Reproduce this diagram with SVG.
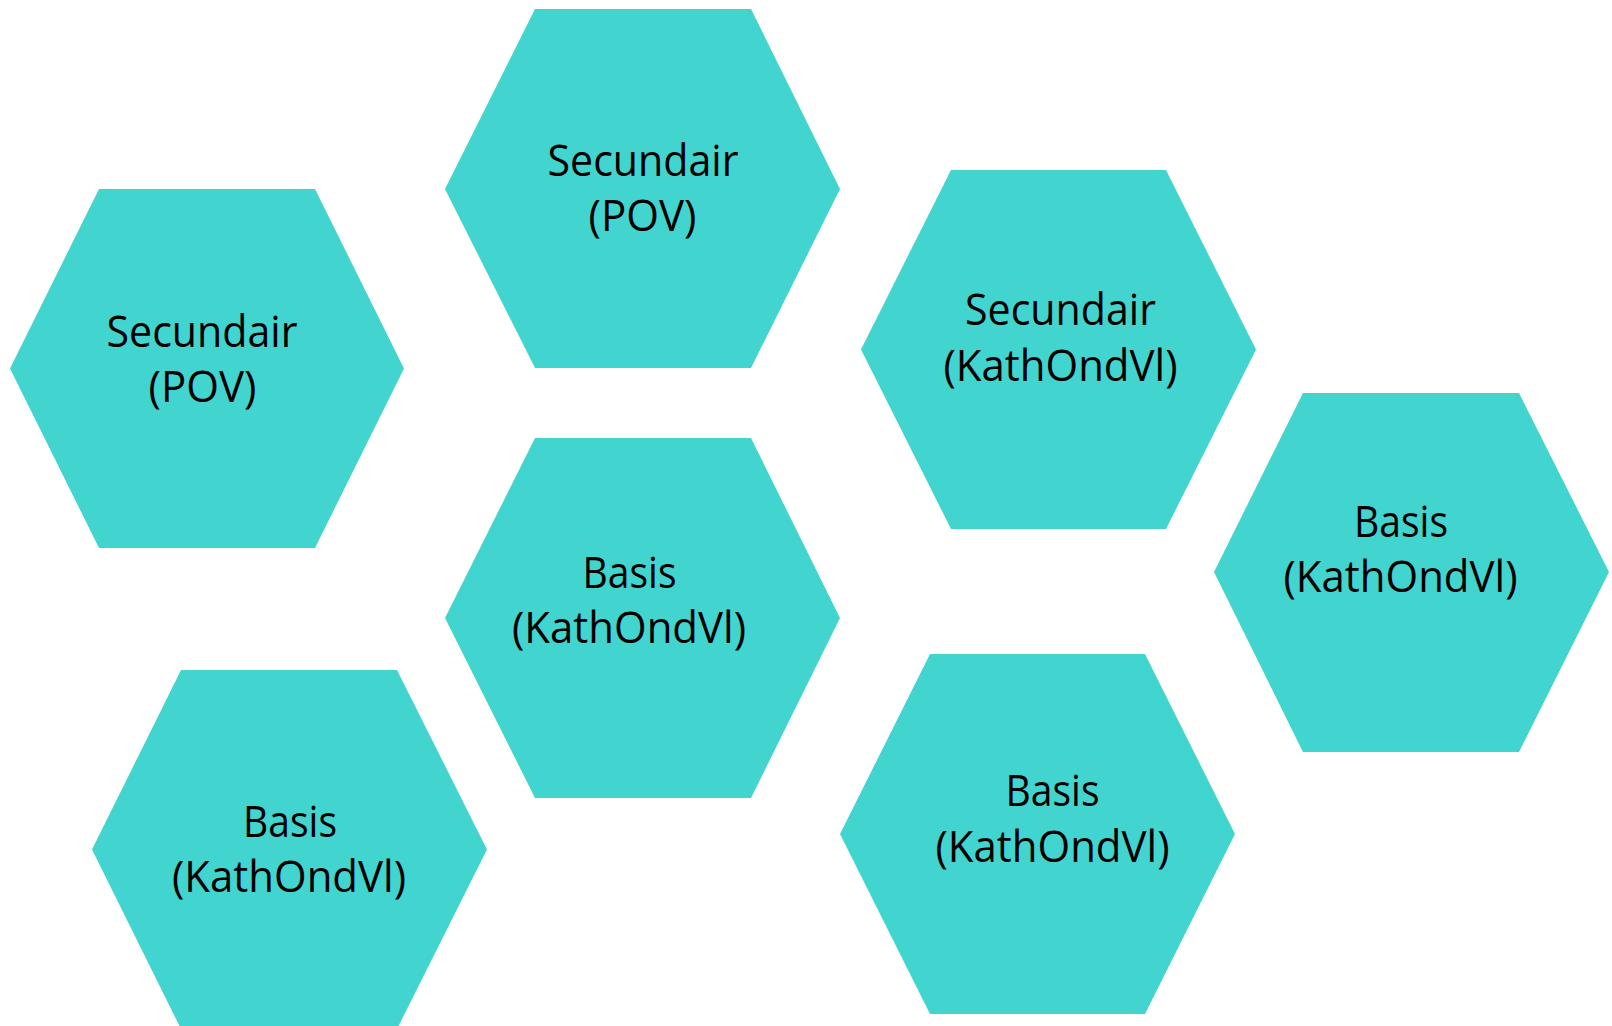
<svg xmlns="http://www.w3.org/2000/svg" width="1612" height="1026" viewBox="0 0 1612 1026">
<style>
.hex{fill:#42D4CF;stroke:none}
.lbl{font-family:'Open Sans','Noto Sans',sans-serif;font-size:43px;fill:#000;text-anchor:middle}
</style>
<rect width="1612" height="1026" fill="#FFFFFF"/>
<g id="connectors"/>
<g id="hex1">
<polygon class="hex" points="10,368.5 99,189 315,189 404,368.5 315,548 99,548"/>
<text class="lbl" x="202" y="346.5" textLength="191" lengthAdjust="spacingAndGlyphs">Secundair</text>
<text class="lbl" x="202.5" y="401.5" textLength="108" lengthAdjust="spacingAndGlyphs">(POV)</text>
</g>
<g id="hex2">
<polygon class="hex" points="445,189 535,9 751,9 840,189 751,368 535,368"/>
<text class="lbl" x="643" y="175.5" textLength="191" lengthAdjust="spacingAndGlyphs">Secundair</text>
<text class="lbl" x="642.5" y="231" textLength="108" lengthAdjust="spacingAndGlyphs">(POV)</text>
</g>
<g id="hex3">
<polygon class="hex" points="445,618 535,438 751,438 840,618 751,798 535,798"/>
<text class="lbl" x="629.5" y="588" textLength="94" lengthAdjust="spacingAndGlyphs">Basis</text>
<text class="lbl" x="629" y="643" textLength="234" lengthAdjust="spacingAndGlyphs">(KathOndVl)</text>
</g>
<g id="hex4">
<polygon class="hex" points="861,349.5 951,170 1166,170 1256,349.5 1166,529 951,529"/>
<text class="lbl" x="1060.5" y="325" textLength="191" lengthAdjust="spacingAndGlyphs">Secundair</text>
<text class="lbl" x="1060.5" y="380.5" textLength="234" lengthAdjust="spacingAndGlyphs">(KathOndVl)</text>
</g>
<g id="hex5">
<polygon class="hex" points="840,834 930,654 1145,654 1235,834 1145,1014 930,1014"/>
<text class="lbl" x="1052.5" y="806" textLength="94" lengthAdjust="spacingAndGlyphs">Basis</text>
<text class="lbl" x="1052.5" y="861.5" textLength="234" lengthAdjust="spacingAndGlyphs">(KathOndVl)</text>
</g>
<g id="hex6">
<polygon class="hex" points="1214,572 1303,393 1519,393 1609,572 1519,752 1303,752"/>
<text class="lbl" x="1401" y="537" textLength="94" lengthAdjust="spacingAndGlyphs">Basis</text>
<text class="lbl" x="1400.5" y="592" textLength="234" lengthAdjust="spacingAndGlyphs">(KathOndVl)</text>
</g>
<g id="hex7">
<polygon class="hex" points="92,849.5 181,670 397,670 487,849.5 397,1029 181,1029"/>
<text class="lbl" x="290" y="836.5" textLength="94" lengthAdjust="spacingAndGlyphs">Basis</text>
<text class="lbl" x="289" y="892" textLength="234" lengthAdjust="spacingAndGlyphs">(KathOndVl)</text>
</g>
</svg>
